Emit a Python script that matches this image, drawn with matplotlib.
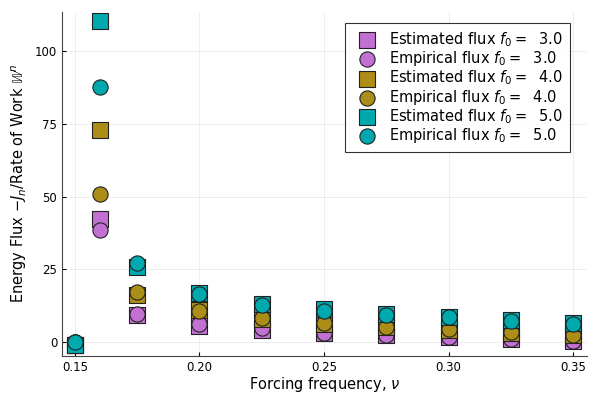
import matplotlib
matplotlib.use("Agg")
import matplotlib.pyplot as plt

# forcing frequencies
nu = [0.15, 0.16, 0.175, 0.2, 0.225, 0.25, 0.275, 0.3, 0.325, 0.35]

# estimated / empirical flux per forcing amplitude f0
est_f3 = [-1.0, 42.3, 9.3, 5.6, 4.1, 3.0, 2.4, 1.8, 1.0, 0.4]
emp_f3 = [0.0, 38.5, 9.6, 6.1, 4.7, 3.2, 2.5, 1.9, 1.1, 0.5]
est_f4 = [-1.0, 72.9, 16.2, 11.0, 7.8, 6.2, 5.0, 4.3, 3.2, 2.3]
emp_f4 = [0.0, 51.0, 17.3, 10.8, 8.1, 6.4, 5.1, 4.4, 3.3, 2.4]
est_f5 = [-1.0, 110.3, 25.9, 16.7, 13.0, 11.2, 9.6, 8.7, 7.5, 6.5]
emp_f5 = [0.0, 87.6, 27.0, 16.4, 12.7, 10.8, 9.3, 8.5, 7.3, 6.3]

series = [
	("Estimated flux $f_0 = $  3.0", est_f3, "s", "#c271d2"),
	("Empirical flux $f_0 = $  3.0", emp_f3, "o", "#c271d2"),
	("Estimated flux $f_0 = $  4.0", est_f4, "s", "#ac8d18"),
	("Empirical flux $f_0 = $  4.0", emp_f4, "o", "#ac8d18"),
	("Estimated flux $f_0 = $  5.0", est_f5, "s", "#00a9ad"),
	("Empirical flux $f_0 = $  5.0", emp_f5, "o", "#00a9ad"),
]

fig = plt.figure(figsize=(6, 4), dpi=100)
ax = fig.add_axes([62/600, 44/400, 525/600, 344/400])

for label, vals, marker, color in series:
	ax.scatter(nu, vals, s=140 if marker == "s" else 120, marker=marker, c=color,
			   edgecolors="#222222", linewidths=0.8, label=label, zorder=3)

ax.set_xlim(0.1448, 0.3556)
ax.set_ylim(-4.8, 113.4)
ax.set_xticks([0.15, 0.20, 0.25, 0.30, 0.35])
ax.set_xticklabels(["0.15", "0.20", "0.25", "0.30", "0.35"])
ax.set_yticks([0, 25, 50, 75, 100])
ax.grid(True, color="#000000", alpha=0.08, linewidth=0.6)
ax.tick_params(direction="in", length=3, labelsize=8.5, width=0.8)
for side in ("top", "right"):
	ax.spines[side].set_visible(False)
for side in ("left", "bottom"):
	ax.spines[side].set_color("#444444")

ax.set_xlabel(r"Forcing frequency, $\nu$", fontsize=10.5, labelpad=1)
ax.set_ylabel(r"Energy Flux $-J_n$/Rate of Work $\mathbb{W}^n$", fontsize=10.5)

leg = ax.legend(loc="upper right", fontsize=10.5, frameon=True, fancybox=False,
				edgecolor="#000000", borderpad=0.5, labelspacing=0.02,
				handletextpad=0.5, bbox_to_anchor=(0.968, 0.968),
				borderaxespad=0)
leg.get_frame().set_linewidth(0.8)

fig.savefig("out.png", dpi=100)
